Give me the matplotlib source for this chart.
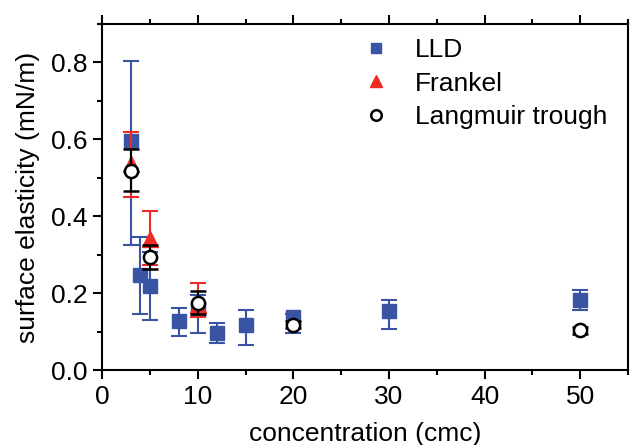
import matplotlib.pyplot as plt
from matplotlib.ticker import MultipleLocator

plt.rcParams['font.family'] = ['Liberation Sans', 'DejaVu Sans']

# LLD
lld_x = [3, 4, 5, 8, 10, 12, 15, 20, 30, 50]
lld_y = [0.595, 0.246, 0.218, 0.128, 0.160, 0.096, 0.118, 0.137, 0.153, 0.183]
lld_lo = [0.27, 0.10, 0.088, 0.040, 0.064, 0.026, 0.052, 0.041, 0.047, 0.027]
lld_hi = [0.21, 0.10, 0.088, 0.034, 0.034, 0.026, 0.037, 0.008, 0.030, 0.026]

# Frankel
fr_x = [3, 5, 10]
fr_y = [0.535, 0.342, 0.170]
fr_lo = [0.085, 0.070, 0.032]
fr_hi = [0.085, 0.071, 0.056]

# Langmuir trough
lt_x = [3, 5, 10, 20, 50]
lt_y = [0.518, 0.294, 0.174, 0.118, 0.103]
lt_lo = [0.053, 0.032, 0.029, 0.010, 0.010]
lt_hi = [0.057, 0.031, 0.031, 0.010, 0.010]

blue = '#3a54a4'
red = '#ee2a24'
fs = 19

fig = plt.figure(figsize=(6.3, 4.45), dpi=100)
ax = fig.add_axes([0.162, 0.1685, 0.835, 0.7775])

ax.errorbar(lld_x, lld_y, yerr=[lld_lo, lld_hi], fmt='s', color=blue, ms=9.5,
            elinewidth=1.5, capsize=6, capthick=1.5, label='LLD', zorder=2)
ax.errorbar(fr_x, fr_y, yerr=[fr_lo, fr_hi], fmt='^', color=red, ms=11.5,
            elinewidth=1.5, capsize=6, capthick=1.5, label='Frankel', zorder=3)
ax.errorbar(lt_x, lt_y, yerr=[lt_lo, lt_hi], fmt='o', color='black', mfc='white',
            mec='black', mew=1.8, ms=9.5, elinewidth=1.5, capsize=6, capthick=1.5,
            label='Langmuir trough', zorder=4)

ax.set_xlim(0, 55)
ax.set_ylim(0, 0.9)
ax.xaxis.set_major_locator(MultipleLocator(10))
ax.xaxis.set_minor_locator(MultipleLocator(5))
ax.yaxis.set_major_locator(MultipleLocator(0.2))
ax.yaxis.set_minor_locator(MultipleLocator(0.1))
ax.yaxis.set_major_formatter(plt.FormatStrFormatter('%.1f'))

for s in ax.spines.values():
    s.set_linewidth(1.5)
ax.tick_params(which='both', direction='out', top=True, right=False, width=1.5,
               labelsize=fs)
ax.tick_params(which='major', length=6.5, pad=4)
ax.tick_params(which='minor', length=3.6)

ax.set_xlabel('concentration (cmc)', fontsize=fs, labelpad=10)
ax.set_ylabel('surface elasticity (mN/m)', fontsize=fs, labelpad=8)

h, l = ax.get_legend_handles_labels()
h = [x[0] for x in h]
ax.legend(h, l, loc='upper right', bbox_to_anchor=(1.005, 1.027), frameon=False,
          fontsize=fs, markerscale=0.8, handlelength=1.0, handletextpad=0.95,
          labelspacing=0.35)

fig.savefig('out.png', dpi=100)
